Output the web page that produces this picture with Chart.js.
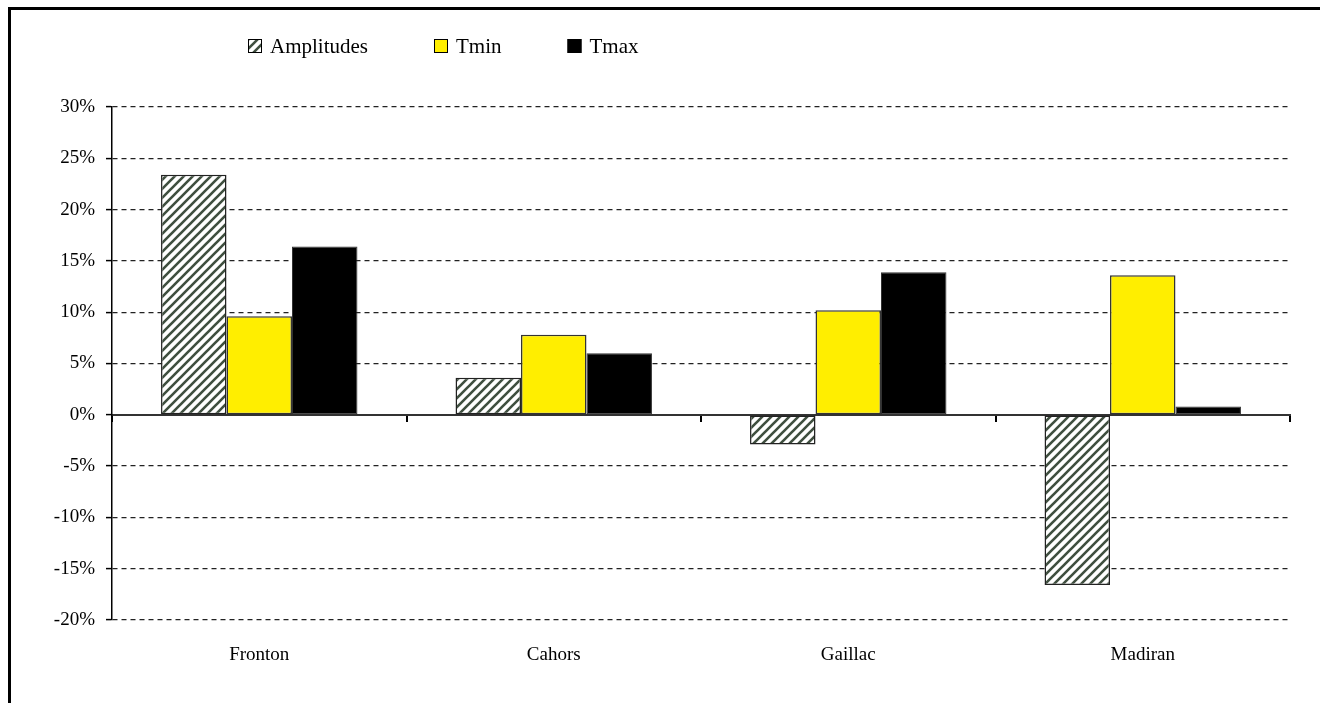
<!DOCTYPE html>
<html><head><meta charset="utf-8">
<script src="https://cdn.jsdelivr.net/npm/chart.js@4/dist/chart.umd.min.js"></script>
<style>html,body{margin:0;padding:0;background:#fff;overflow:hidden}#wrap{position:relative;width:1320px;height:703px}</style>
</head><body><div id="wrap"><canvas id="c" width="1320" height="703"></canvas></div>
<script>
const categories = ['Fronton', 'Cahors', 'Gaillac', 'Madiran'];
const seriesNames = ['Amplitudes', 'Tmin', 'Tmax'];
const amplitudes = [23.4, 3.6, -2.9, -16.6];
const tmin = [9.6, 7.8, 10.2, 13.6];
const tmax = [16.4, 6.0, 13.9, 0.8];
const yMin = -20, yMax = 30, yStep = 5;

const FONT = '"Liberation Serif", "Times New Roman", serif';

function hatchPattern() {
  const s = 9;
  const cv = document.createElement('canvas');
  cv.width = s; cv.height = s;
  const g = cv.getContext('2d');
  g.fillStyle = '#fff'; g.fillRect(0, 0, s, s);
  g.strokeStyle = '#3f4f3f'; g.lineWidth = 2.6;
  g.beginPath();
  g.moveTo(-2, s + 2); g.lineTo(s + 2, -2);
  g.moveTo(-2, 2); g.lineTo(2, -2);
  g.moveTo(s - 2, s + 2); g.lineTo(s + 2, s - 2);
  g.stroke();
  return g.createPattern(cv, 'repeat');
}
const hatch = hatchPattern();

const framePlugin = {
  id: 'frame',
  beforeDraw(chart) {
    const ctx = chart.ctx;
    ctx.save();
    ctx.fillStyle = '#fff'; ctx.fillRect(0, 0, chart.width, chart.height);
    ctx.restore();
  },
  afterDraw(chart) {
    const ctx = chart.ctx;
    ctx.save();
    ctx.strokeStyle = '#000'; ctx.lineWidth = 3;
    ctx.beginPath();
    ctx.moveTo(9.5, chart.height); ctx.lineTo(9.5, 8.5); ctx.lineTo(chart.width, 8.5);
    ctx.stroke();
    // legend
    ctx.font = '21px ' + FONT;
    ctx.textBaseline = 'middle';
    let x = 248; const y = 46;
    chart.data.datasets.forEach(ds => {
      ctx.fillStyle = ds.backgroundColor;
      ctx.fillRect(x, y - 7, 14, 14);
      ctx.strokeStyle = '#000'; ctx.lineWidth = 1;
      ctx.strokeRect(x + 0.5, y - 6.5, 13, 13);
      ctx.fillStyle = '#000';
      ctx.fillText(ds.label, x + 22, y + 1);
      x += 22 + ctx.measureText(ds.label).width + 66;
    });
    ctx.restore();
  }
};

new Chart(document.getElementById('c'), {
  type: 'bar',
  data: {
    labels: categories,
    datasets: [
      { label: seriesNames[0], data: amplitudes, backgroundColor: hatch, borderColor: '#222', borderWidth: 1.5 },
      { label: seriesNames[1], data: tmin, backgroundColor: '#FFEE00', borderColor: '#333', borderWidth: 1.5 },
      { label: seriesNames[2], data: tmax, backgroundColor: '#000000', borderColor: '#333', borderWidth: 1 }
    ]
  },
  options: {
    responsive: false,
    animation: false,
    devicePixelRatio: 1,
    layout: { padding: { top: 107, right: 30, left: 0, bottom: 0 } },
    datasets: { bar: { categoryPercentage: 0.667, barPercentage: 1.0, borderSkipped: false } },
    plugins: { legend: { display: false }, tooltip: { enabled: false } },
    scales: {
      x: {
        type: 'category',
        position: { y: 0 },
        offset: true,
        ticks: { display: false },
        grid: { display: true, drawOnChartArea: false, drawTicks: true, offset: true, tickLength: 6, color: '#000', tickColor: '#000', lineWidth: 2, tickWidth: 2 },
        border: { display: true, color: '#333', width: 2 }
      },
      x2: {
        type: 'category',
        position: 'bottom',
        offset: true,
        labels: categories,
        grid: { display: false, drawTicks: false },
        border: { display: false },
        ticks: { color: '#000', font: { family: FONT, size: 19 }, padding: 24, maxRotation: 0 },
        afterFit(s) { s.height = 83; }
      },
      y: {
        min: yMin, max: yMax,
        ticks: { stepSize: yStep, color: '#000', font: { family: FONT, size: 19 }, padding: 11, callback: v => v + '%' },
        grid: { color: '#222', lineWidth: 1.2, tickLength: 6, tickColor: '#000', tickWidth: 1.5, tickBorderDash: [] },
        border: { display: true, color: '#000', width: 1.5, dash: [5, 4] },
        afterFit(s) { s.width = 112; }
      }
    }
  },
  plugins: [framePlugin]
});
</script>
</body></html>
